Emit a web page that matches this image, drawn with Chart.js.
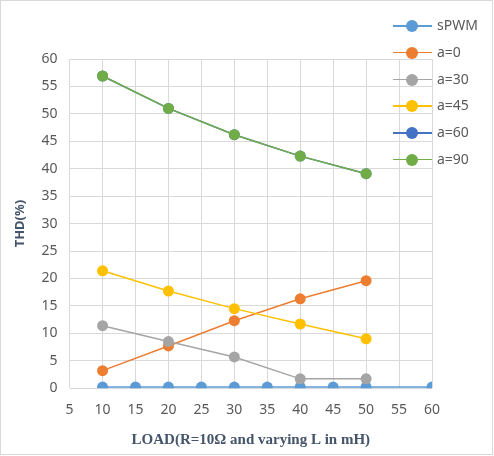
<!DOCTYPE html>
<html lang="en">
<head>
<meta charset="UTF-8">
<script src="https://cdn.jsdelivr.net/npm/chart.js"></script>
<title>THD vs load</title>
<style>
    body { margin: 0; background: #fff; }
    #wrap { position: relative; width: 494px; height: 456px; }
    #frame { position: absolute; left: 0; top: 0; width: 491px; height: 453px; border: 1px solid #d9d9d9; pointer-events: none; }
    #legenda { position: absolute; left: 393px; top: 13px; font-family: "Noto Sans", sans-serif; font-size: 14px; color: #595959; }
    .item { position: relative; height: 26.8px; width: 100px; }
    .linha { position: absolute; left: 0; top: 12px; width: 39px; height: 1.5px; }
    .bola { position: absolute; left: 13px; top: 7px; width: 12px; height: 12px; border-radius: 50%; }
    .txt { position: absolute; left: 44px; top: 3px; line-height: 18px; }
</style>
</head>
<body>
<div id="wrap">
    <canvas id="grafico" width="494" height="456"></canvas>
    <div id="legenda"></div>
    <div id="frame"></div>
</div>

<script>
    // dados
    const cargasSpwm = [10, 15, 20, 25, 30, 35, 40, 45, 50, 60];
    const cargas = [10, 20, 30, 40, 50];

    const spwm = [0.2, 0.2, 0.2, 0.2, 0.2, 0.2, 0.2, 0.2, 0.2, 0.2];
    const a0 = [3.2, 7.7, 12.3, 16.3, 19.6];
    const a30 = [11.4, 8.5, 5.7, 1.7, 1.7];
    const a45 = [21.4, 17.7, 14.5, 11.7, 9.0];
    const a60 = [56.9, 51.0, 46.2, 42.3, 39.1];
    const a90 = [56.9, 51.0, 46.2, 42.3, 39.1];

    const rotulos = ['sPWM', 'a=0', 'a=30', 'a=45', 'a=60', 'a=90'];
    const cores = ['#5b9bd5', '#ed7d31', '#a5a5a5', '#ffc000', '#4472c4', '#70ad47'];

    function pontos(xs, ys) {
        return xs.map((x, i) => ({ x: x, y: ys[i] }));
    }

    const series = [
        pontos(cargasSpwm, spwm),
        pontos(cargas, a0),
        pontos(cargas, a30),
        pontos(cargas, a45),
        pontos(cargas, a60),
        pontos(cargas, a90)
    ];

    // ultima serie desenhada por cima (como no excel)
    const datasets = series.map((d, i) => ({
        label: rotulos[i],
        data: d,
        order: series.length - 1 - i,
        borderColor: cores[i],
        backgroundColor: cores[i],
        borderWidth: 1.5,
        pointRadius: 5.5,
        pointHoverRadius: 5.5,
        pointBorderWidth: 0,
        tension: 0
    }));

    const fonteTick = { family: 'Noto Sans', size: 14 };

    new Chart(document.getElementById('grafico'), {
        type: 'line',
        data: { datasets: datasets },
        options: {
            responsive: false,
            animation: false,
            layout: { padding: { top: 59, right: 62, left: 8, bottom: 7 } },
            plugins: {
                legend: { display: false },
                tooltip: { enabled: false }
            },
            scales: {
                x: {
                    type: 'linear',
                    min: 5,
                    max: 60,
                    ticks: { stepSize: 5, color: '#595959', font: fonteTick, padding: 13 },
                    grid: { color: '#d9d9d9', drawTicks: false },
                    border: { display: false },
                    title: {
                        display: true,
                        text: 'LOAD(R=10Ω and varying L in mH)',
                        color: '#44546a',
                        font: { family: 'Liberation Serif', size: 15, weight: 'bold' },
                        padding: { top: 0, bottom: 0 }
                    }
                },
                y: {
                    min: 0,
                    max: 60,
                    ticks: { stepSize: 5, color: '#595959', font: fonteTick, padding: 12 },
                    grid: { color: '#d9d9d9', drawTicks: false },
                    border: { display: false },
                    title: {
                        display: true,
                        text: 'THD(%)',
                        color: '#44546a',
                        font: { family: 'Noto Sans', size: 13, weight: 'bold' },
                        padding: { bottom: 2 }
                    }
                }
            }
        }
    });

    // legenda em html
    const legenda = document.getElementById('legenda');
    rotulos.forEach((r, i) => {
        legenda.innerHTML += '<div class="item"><div class="linha" style="background:' + cores[i] + '"></div>' +
            '<div class="bola" style="background:' + cores[i] + '"></div><div class="txt">' + r + '</div></div>';
    });
</script>
</body>
</html>
